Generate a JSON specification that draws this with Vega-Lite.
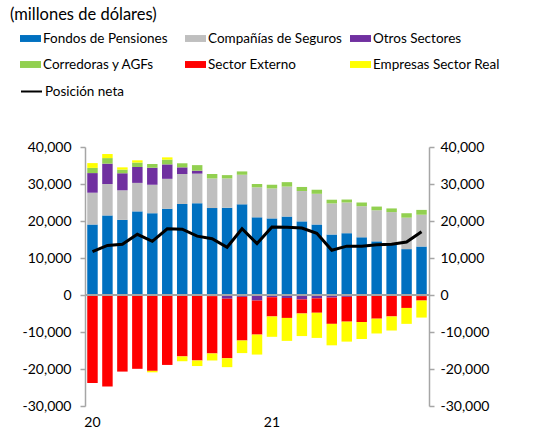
{
  "$schema": "https://vega.github.io/schema/vega-lite/v6.json",
  "width": 344,
  "height": 259,
  "autosize": {"type": "none"},
  "padding": {"left": 85, "top": 147, "right": 118, "bottom": 24},
  "background": "white",
  "config": {
    "view": {"stroke": null},
    "font": "Lato",
    "axis": {"labelFont": "Lato", "labelColor": "black", "labelFontSize": 14, "grid": false, "title": null}
  },
  "title": {
    "text": "(millones de dólares)",
    "anchor": "start",
    "frame": "group",
    "orient": "top",
    "dx": -75,
    "offset": 5,
    "fontSize": 16.5,
    "fontWeight": "normal",
    "font": "Lato",
    "color": "black"
  },
  "datasets": {
    "barras": [
      {"mes": "2020-01", "serie": "Fondos de Pensiones", "orden": 0, "valor": 19050},
      {"mes": "2020-01", "serie": "Compañías de Seguros", "orden": 1, "valor": 8600},
      {"mes": "2020-01", "serie": "Otros Sectores", "orden": 2, "valor": 5300},
      {"mes": "2020-01", "serie": "Corredoras y AGFs", "orden": 3, "valor": 1400},
      {"mes": "2020-01", "serie": "Sector Externo", "orden": 4, "valor": -23800},
      {"mes": "2020-01", "serie": "Empresas Sector Real", "orden": 5, "valor": 1300},
      {"mes": "2020-02", "serie": "Fondos de Pensiones", "orden": 0, "valor": 21500},
      {"mes": "2020-02", "serie": "Compañías de Seguros", "orden": 1, "valor": 8500},
      {"mes": "2020-02", "serie": "Otros Sectores", "orden": 2, "valor": 5500},
      {"mes": "2020-02", "serie": "Corredoras y AGFs", "orden": 3, "valor": 1500},
      {"mes": "2020-02", "serie": "Sector Externo", "orden": 4, "valor": -24700},
      {"mes": "2020-02", "serie": "Empresas Sector Real", "orden": 5, "valor": 1100},
      {"mes": "2020-03", "serie": "Fondos de Pensiones", "orden": 0, "valor": 20300},
      {"mes": "2020-03", "serie": "Compañías de Seguros", "orden": 1, "valor": 8000},
      {"mes": "2020-03", "serie": "Otros Sectores", "orden": 2, "valor": 4600},
      {"mes": "2020-03", "serie": "Corredoras y AGFs", "orden": 3, "valor": 1000},
      {"mes": "2020-03", "serie": "Sector Externo", "orden": 4, "valor": -20700},
      {"mes": "2020-03", "serie": "Empresas Sector Real", "orden": 5, "valor": 600},
      {"mes": "2020-04", "serie": "Fondos de Pensiones", "orden": 0, "valor": 22600},
      {"mes": "2020-04", "serie": "Compañías de Seguros", "orden": 1, "valor": 7700},
      {"mes": "2020-04", "serie": "Otros Sectores", "orden": 2, "valor": 4300},
      {"mes": "2020-04", "serie": "Corredoras y AGFs", "orden": 3, "valor": 1200},
      {"mes": "2020-04", "serie": "Sector Externo", "orden": 4, "valor": -19950},
      {"mes": "2020-04", "serie": "Empresas Sector Real", "orden": 5, "valor": 600},
      {"mes": "2020-05", "serie": "Fondos de Pensiones", "orden": 0, "valor": 22100},
      {"mes": "2020-05", "serie": "Compañías de Seguros", "orden": 1, "valor": 7700},
      {"mes": "2020-05", "serie": "Otros Sectores", "orden": 2, "valor": 4600},
      {"mes": "2020-05", "serie": "Corredoras y AGFs", "orden": 3, "valor": 1000},
      {"mes": "2020-05", "serie": "Sector Externo", "orden": 4, "valor": -20500},
      {"mes": "2020-05", "serie": "Empresas Sector Real", "orden": 5, "valor": -400},
      {"mes": "2020-06", "serie": "Fondos de Pensiones", "orden": 0, "valor": 23300},
      {"mes": "2020-06", "serie": "Compañías de Seguros", "orden": 1, "valor": 8100},
      {"mes": "2020-06", "serie": "Otros Sectores", "orden": 2, "valor": 3900},
      {"mes": "2020-06", "serie": "Corredoras y AGFs", "orden": 3, "valor": 1300},
      {"mes": "2020-06", "serie": "Sector Externo", "orden": 4, "valor": -18900},
      {"mes": "2020-06", "serie": "Empresas Sector Real", "orden": 5, "valor": 600},
      {"mes": "2020-07", "serie": "Fondos de Pensiones", "orden": 0, "valor": 24600},
      {"mes": "2020-07", "serie": "Compañías de Seguros", "orden": 1, "valor": 8100},
      {"mes": "2020-07", "serie": "Otros Sectores", "orden": 2, "valor": 1800},
      {"mes": "2020-07", "serie": "Corredoras y AGFs", "orden": 3, "valor": 1100},
      {"mes": "2020-07", "serie": "Sector Externo", "orden": 4, "valor": -16600},
      {"mes": "2020-07", "serie": "Empresas Sector Real", "orden": 5, "valor": -1300},
      {"mes": "2020-08", "serie": "Fondos de Pensiones", "orden": 0, "valor": 24800},
      {"mes": "2020-08", "serie": "Compañías de Seguros", "orden": 1, "valor": 8000},
      {"mes": "2020-08", "serie": "Otros Sectores", "orden": 2, "valor": 800},
      {"mes": "2020-08", "serie": "Corredoras y AGFs", "orden": 3, "valor": 1500},
      {"mes": "2020-08", "serie": "Sector Externo", "orden": 4, "valor": -17700},
      {"mes": "2020-08", "serie": "Empresas Sector Real", "orden": 5, "valor": -1500},
      {"mes": "2020-09", "serie": "Fondos de Pensiones", "orden": 0, "valor": 23500},
      {"mes": "2020-09", "serie": "Compañías de Seguros", "orden": 1, "valor": 8000},
      {"mes": "2020-09", "serie": "Otros Sectores", "orden": 2, "valor": -300},
      {"mes": "2020-09", "serie": "Corredoras y AGFs", "orden": 3, "valor": 1200},
      {"mes": "2020-09", "serie": "Sector Externo", "orden": 4, "valor": -15500},
      {"mes": "2020-09", "serie": "Empresas Sector Real", "orden": 5, "valor": -1900},
      {"mes": "2020-10", "serie": "Fondos de Pensiones", "orden": 0, "valor": 23600},
      {"mes": "2020-10", "serie": "Compañías de Seguros", "orden": 1, "valor": 7900},
      {"mes": "2020-10", "serie": "Otros Sectores", "orden": 2, "valor": -1000},
      {"mes": "2020-10", "serie": "Corredoras y AGFs", "orden": 3, "valor": 900},
      {"mes": "2020-10", "serie": "Sector Externo", "orden": 4, "valor": -16100},
      {"mes": "2020-10", "serie": "Empresas Sector Real", "orden": 5, "valor": -2400},
      {"mes": "2020-11", "serie": "Fondos de Pensiones", "orden": 0, "valor": 24500},
      {"mes": "2020-11", "serie": "Compañías de Seguros", "orden": 1, "valor": 8000},
      {"mes": "2020-11", "serie": "Otros Sectores", "orden": 2, "valor": -500},
      {"mes": "2020-11", "serie": "Corredoras y AGFs", "orden": 3, "valor": 900},
      {"mes": "2020-11", "serie": "Sector Externo", "orden": 4, "valor": -11800},
      {"mes": "2020-11", "serie": "Empresas Sector Real", "orden": 5, "valor": -3400},
      {"mes": "2020-12", "serie": "Fondos de Pensiones", "orden": 0, "valor": 21000},
      {"mes": "2020-12", "serie": "Compañías de Seguros", "orden": 1, "valor": 8100},
      {"mes": "2020-12", "serie": "Otros Sectores", "orden": 2, "valor": -1500},
      {"mes": "2020-12", "serie": "Corredoras y AGFs", "orden": 3, "valor": 900},
      {"mes": "2020-12", "serie": "Sector Externo", "orden": 4, "valor": -9200},
      {"mes": "2020-12", "serie": "Empresas Sector Real", "orden": 5, "valor": -5400},
      {"mes": "2021-01", "serie": "Fondos de Pensiones", "orden": 0, "valor": 20700},
      {"mes": "2021-01", "serie": "Compañías de Seguros", "orden": 1, "valor": 8100},
      {"mes": "2021-01", "serie": "Otros Sectores", "orden": 2, "valor": -600},
      {"mes": "2021-01", "serie": "Corredoras y AGFs", "orden": 3, "valor": 1000},
      {"mes": "2021-01", "serie": "Sector Externo", "orden": 4, "valor": -5200},
      {"mes": "2021-01", "serie": "Empresas Sector Real", "orden": 5, "valor": -5500},
      {"mes": "2021-02", "serie": "Fondos de Pensiones", "orden": 0, "valor": 21200},
      {"mes": "2021-02", "serie": "Compañías de Seguros", "orden": 1, "valor": 8100},
      {"mes": "2021-02", "serie": "Otros Sectores", "orden": 2, "valor": -800},
      {"mes": "2021-02", "serie": "Corredoras y AGFs", "orden": 3, "valor": 1200},
      {"mes": "2021-02", "serie": "Sector Externo", "orden": 4, "valor": -5400},
      {"mes": "2021-02", "serie": "Empresas Sector Real", "orden": 5, "valor": -6200},
      {"mes": "2021-03", "serie": "Fondos de Pensiones", "orden": 0, "valor": 19900},
      {"mes": "2021-03", "serie": "Compañías de Seguros", "orden": 1, "valor": 8200},
      {"mes": "2021-03", "serie": "Otros Sectores", "orden": 2, "valor": -1200},
      {"mes": "2021-03", "serie": "Corredoras y AGFs", "orden": 3, "valor": 1100},
      {"mes": "2021-03", "serie": "Sector Externo", "orden": 4, "valor": -3800},
      {"mes": "2021-03", "serie": "Empresas Sector Real", "orden": 5, "valor": -6100},
      {"mes": "2021-04", "serie": "Fondos de Pensiones", "orden": 0, "valor": 19050},
      {"mes": "2021-04", "serie": "Compañías de Seguros", "orden": 1, "valor": 8300},
      {"mes": "2021-04", "serie": "Otros Sectores", "orden": 2, "valor": -900},
      {"mes": "2021-04", "serie": "Corredoras y AGFs", "orden": 3, "valor": 1100},
      {"mes": "2021-04", "serie": "Sector Externo", "orden": 4, "valor": -3900},
      {"mes": "2021-04", "serie": "Empresas Sector Real", "orden": 5, "valor": -6800},
      {"mes": "2021-05", "serie": "Fondos de Pensiones", "orden": 0, "valor": 16350},
      {"mes": "2021-05", "serie": "Compañías de Seguros", "orden": 1, "valor": 8400},
      {"mes": "2021-05", "serie": "Otros Sectores", "orden": 2, "valor": -700},
      {"mes": "2021-05", "serie": "Corredoras y AGFs", "orden": 3, "valor": 1000},
      {"mes": "2021-05", "serie": "Sector Externo", "orden": 4, "valor": -7100},
      {"mes": "2021-05", "serie": "Empresas Sector Real", "orden": 5, "valor": -5800},
      {"mes": "2021-06", "serie": "Fondos de Pensiones", "orden": 0, "valor": 16700},
      {"mes": "2021-06", "serie": "Compañías de Seguros", "orden": 1, "valor": 8300},
      {"mes": "2021-06", "serie": "Otros Sectores", "orden": 2, "valor": -500},
      {"mes": "2021-06", "serie": "Corredoras y AGFs", "orden": 3, "valor": 800},
      {"mes": "2021-06", "serie": "Sector Externo", "orden": 4, "valor": -6700},
      {"mes": "2021-06", "serie": "Empresas Sector Real", "orden": 5, "valor": -5400},
      {"mes": "2021-07", "serie": "Fondos de Pensiones", "orden": 0, "valor": 15600},
      {"mes": "2021-07", "serie": "Compañías de Seguros", "orden": 1, "valor": 8400},
      {"mes": "2021-07", "serie": "Otros Sectores", "orden": 2, "valor": -200},
      {"mes": "2021-07", "serie": "Corredoras y AGFs", "orden": 3, "valor": 1000},
      {"mes": "2021-07", "serie": "Sector Externo", "orden": 4, "valor": -7100},
      {"mes": "2021-07", "serie": "Empresas Sector Real", "orden": 5, "valor": -4600},
      {"mes": "2021-08", "serie": "Fondos de Pensiones", "orden": 0, "valor": 14500},
      {"mes": "2021-08", "serie": "Compañías de Seguros", "orden": 1, "valor": 8400},
      {"mes": "2021-08", "serie": "Otros Sectores", "orden": 2, "valor": -100},
      {"mes": "2021-08", "serie": "Corredoras y AGFs", "orden": 3, "valor": 1000},
      {"mes": "2021-08", "serie": "Sector Externo", "orden": 4, "valor": -6300},
      {"mes": "2021-08", "serie": "Empresas Sector Real", "orden": 5, "valor": -4000},
      {"mes": "2021-09", "serie": "Fondos de Pensiones", "orden": 0, "valor": 13600},
      {"mes": "2021-09", "serie": "Compañías de Seguros", "orden": 1, "valor": 8800},
      {"mes": "2021-09", "serie": "Otros Sectores", "orden": 2, "valor": -100},
      {"mes": "2021-09", "serie": "Corredoras y AGFs", "orden": 3, "valor": 1000},
      {"mes": "2021-09", "serie": "Sector Externo", "orden": 4, "valor": -5700},
      {"mes": "2021-09", "serie": "Empresas Sector Real", "orden": 5, "valor": -3800},
      {"mes": "2021-10", "serie": "Fondos de Pensiones", "orden": 0, "valor": 12400},
      {"mes": "2021-10", "serie": "Compañías de Seguros", "orden": 1, "valor": 8500},
      {"mes": "2021-10", "serie": "Otros Sectores", "orden": 2, "valor": -100},
      {"mes": "2021-10", "serie": "Corredoras y AGFs", "orden": 3, "valor": 1200},
      {"mes": "2021-10", "serie": "Sector Externo", "orden": 4, "valor": -3400},
      {"mes": "2021-10", "serie": "Empresas Sector Real", "orden": 5, "valor": -4300},
      {"mes": "2021-11", "serie": "Fondos de Pensiones", "orden": 0, "valor": 13100},
      {"mes": "2021-11", "serie": "Compañías de Seguros", "orden": 1, "valor": 8600},
      {"mes": "2021-11", "serie": "Otros Sectores", "orden": 2, "valor": -300},
      {"mes": "2021-11", "serie": "Corredoras y AGFs", "orden": 3, "valor": 1300},
      {"mes": "2021-11", "serie": "Sector Externo", "orden": 4, "valor": -1200},
      {"mes": "2021-11", "serie": "Empresas Sector Real", "orden": 5, "valor": -4600}
    ],
    "neta": [
      {"mes": "2020-01", "neta": 11700},
      {"mes": "2020-02", "neta": 13400},
      {"mes": "2020-03", "neta": 13700},
      {"mes": "2020-04", "neta": 16400},
      {"mes": "2020-05", "neta": 14500},
      {"mes": "2020-06", "neta": 17900},
      {"mes": "2020-07", "neta": 17800},
      {"mes": "2020-08", "neta": 15900},
      {"mes": "2020-09", "neta": 15200},
      {"mes": "2020-10", "neta": 12900},
      {"mes": "2020-11", "neta": 17900},
      {"mes": "2020-12", "neta": 13900},
      {"mes": "2021-01", "neta": 18400},
      {"mes": "2021-02", "neta": 18300},
      {"mes": "2021-03", "neta": 18100},
      {"mes": "2021-04", "neta": 16700},
      {"mes": "2021-05", "neta": 12100},
      {"mes": "2021-06", "neta": 13200},
      {"mes": "2021-07", "neta": 13200},
      {"mes": "2021-08", "neta": 13600},
      {"mes": "2021-09", "neta": 13700},
      {"mes": "2021-10", "neta": 14300},
      {"mes": "2021-11", "neta": 17100}
    ]
  },
  "layer": [
    {
      "data": {"name": "barras"},
      "mark": {"type": "bar"},
      "encoding": {
        "x": {
          "field": "mes",
          "type": "ordinal",
          "scale": {"paddingInner": 0.3, "paddingOuter": 0.15},
          "axis": {
            "orient": "bottom",
            "domain": false,
            "ticks": false,
            "labelAngle": 0,
            "labelPadding": 9,
            "labelFontSize": 14,
            "labelExpr": "slice(datum.value, 5) == '01' ? slice(datum.value, 2, 4) : ''"
          }
        },
        "y": {
          "field": "valor",
          "type": "quantitative",
          "stack": "zero",
          "scale": {"domain": [-30000, 40000], "nice": false},
          "axis": {
            "orient": "left",
            "values": [-30000, -20000, -10000, 0, 10000, 20000, 30000, 40000],
            "tickSize": 5,
            "tickColor": "#a6a6a6",
            "domainColor": "#a6a6a6",
            "domainWidth": 1.5,
            "tickWidth": 1.5,
            "labelPadding": 9,
            "labelExpr": "(datum.value < 0 ? '-' : '') + format(abs(datum.value), ',')"
          }
        },
        "color": {
          "field": "serie",
          "type": "nominal",
          "scale": {
            "domain": ["Fondos de Pensiones", "Compañías de Seguros", "Otros Sectores", "Corredoras y AGFs", "Sector Externo", "Empresas Sector Real"],
            "range": ["#0070C0", "#BFBFBF", "#7030A0", "#92D050", "#FF0000", "#FFFF00"]
          },
          "legend": {
            "orient": "none",
            "direction": "horizontal",
            "legendX": -65,
            "legendY": -119,
            "columns": 3,
            "gridAlign": "all",
            "columnPadding": 8,
            "rowPadding": 9,
            "title": null,
            "padding": 0,
            "symbolType": "M-1,-0.33L1,-0.33L1,0.33L-1,0.33Z",
            "symbolSize": 441,
            "symbolStrokeWidth": 0,
            "symbolOpacity": 1,
            "labelFont": "Lato",
            "labelFontSize": 13.5,
            "labelColor": "black",
            "labelOffset": 2,
            "labelLimit": 300
          }
        },
        "order": {"field": "orden", "type": "quantitative"}
      }
    },
    {
      "data": {"name": "barras"},
      "mark": {"type": "rule", "color": "#a6a6a6", "strokeWidth": 1.5},
      "encoding": {
        "y": {"datum": 0, "type": "quantitative", "scale": {"domain": [-30000, 40000], "nice": false}, "axis": null}
      }
    },
    {
      "data": {"name": "neta"},
      "mark": {"type": "line", "strokeWidth": 3},
      "encoding": {
        "x": {"field": "mes", "type": "ordinal"},
        "y": {
          "field": "neta",
          "type": "quantitative",
          "scale": {"domain": [-30000, 40000], "nice": false},
          "axis": {
            "orient": "right",
            "values": [-30000, -20000, -10000, 0, 10000, 20000, 30000, 40000],
            "tickSize": 5,
            "tickColor": "#a6a6a6",
            "domainColor": "#a6a6a6",
            "domainWidth": 1.5,
            "tickWidth": 1.5,
            "labelPadding": 6,
            "labelExpr": "(datum.value < 0 ? '-' : '') + format(abs(datum.value), ',')"
          }
        },
        "stroke": {
          "datum": "Posición neta",
          "scale": {"range": ["black"]},
          "legend": {
            "orient": "none",
            "legendX": -65,
            "legendY": -67,
            "title": null,
            "padding": 0,
            "symbolType": "stroke",
            "symbolSize": 441,
            "symbolStrokeWidth": 2,
            "labelFont": "Lato",
            "labelFontSize": 13.5,
            "labelColor": "black",
            "labelOffset": 2
          }
        }
      }
    }
  ],
  "resolve": {"scale": {"y": "independent"}, "axis": {"y": "independent"}}
}
